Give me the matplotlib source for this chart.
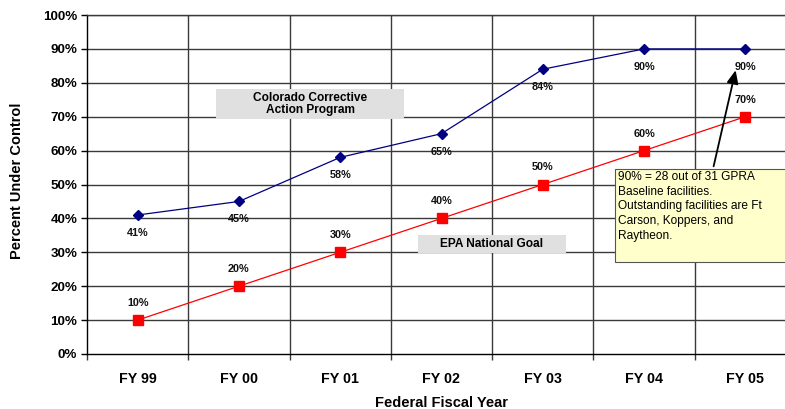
import matplotlib
matplotlib.use("Agg")
import matplotlib.pyplot as plt
from matplotlib.ticker import FixedLocator, NullFormatter

categories = ["FY 99", "FY 00", "FY 01", "FY 02", "FY 03", "FY 04", "FY 05"]
colorado = [41, 45, 58, 65, 84, 90, 90]
epa_goal = [10, 20, 30, 40, 50, 60, 70]
y_ticks = [0, 10, 20, 30, 40, 50, 60, 70, 80, 90, 100]

plt.rcParams['font.family'] = ['Liberation Sans', 'DejaVu Sans']

fig = plt.figure(figsize=(7.85, 4.09), dpi=100)
W, H = 785, 409
ax = fig.add_axes([87 / W, (H - 354) / H, (796 - 87) / W, (354 - 15) / H])

x = list(range(len(categories)))
ax.set_xlim(-0.5, len(categories) - 0.5)
ax.set_ylim(0, 100)

grid_c = "#3a3a3a"
for yv in y_ticks[1:]:
    ax.axhline(yv, color=grid_c, lw=1.0, zorder=1)
for b in range(1, len(categories)):
    ax.axvline(b - 0.5, color=grid_c, lw=1.0, zorder=1)

ax.plot(x, colorado, color="#000080", lw=0.9, marker="D", ms=5.5, mfc="#000080", mec="#000080", zorder=4)
ax.plot(x, epa_goal, color="#FF0000", lw=0.9, marker="s", ms=6.5, mfc="#FF0000", mec="#FF0000", zorder=4)

for xi, v in zip(x, colorado):
    ax.annotate(f"{v}%", (xi, v), xytext=(0, -18), textcoords="offset pixels",
                ha="center", va="center", fontsize=7.8, fontweight="bold", color="#111111", zorder=5)
for xi, v in zip(x, epa_goal):
    ax.annotate(f"{v}%", (xi, v), xytext=(0, 17), textcoords="offset pixels",
                ha="center", va="center", fontsize=7.8, fontweight="bold", color="#111111", zorder=5)

ax.set_yticks(y_ticks)
ax.set_yticklabels([f"{v}%" for v in y_ticks], fontsize=9.6, fontweight="bold")
ax.set_xticks(x)
ax.set_xticklabels(categories, fontsize=10.3, fontweight="bold")
ax.tick_params(axis="x", length=0, pad=13)
ax.xaxis.set_minor_locator(FixedLocator([b - 0.5 for b in range(len(categories) + 1)]))
ax.xaxis.set_minor_formatter(NullFormatter())
ax.tick_params(axis="x", which="minor", length=4, color=grid_c, width=1.0)
ax.tick_params(axis="y", length=4, width=1.0, color="black", pad=3)

for s in ["top", "right"]:
    ax.spines[s].set_color(grid_c)
    ax.spines[s].set_linewidth(1.0)
for s in ["left", "bottom"]:
    ax.spines[s].set_color("black")
    ax.spines[s].set_linewidth(1.0)

ax.set_ylabel("Percent Under Control", fontsize=10.5, fontweight="bold")
ax.yaxis.set_label_coords(-0.089, 0.51)
ax.set_xlabel("Federal Fiscal Year", fontsize=10.5, fontweight="bold", labelpad=7)

# labels boxes
fig.patches.append(plt.Rectangle((216 / W, (H - 119) / H), (404 - 216) / W, 30 / H,
                                 transform=fig.transFigure, facecolor="#E0E0E0", edgecolor="none", zorder=6))
fig.text(310 / W, (H - 104) / H, "Colorado Corrective\nAction Program", ha="center", va="center",
         fontsize=8.6, fontweight="bold", linespacing=1.0, zorder=7)
fig.patches.append(plt.Rectangle((418 / W, (H - 253) / H), (566 - 418) / W, 18 / H,
                                 transform=fig.transFigure, facecolor="#E0E0E0", edgecolor="none", zorder=6))
fig.text(492 / W, (H - 244) / H, "EPA National Goal", ha="center", va="center",
         fontsize=8.6, fontweight="bold", zorder=7)

# note box
fig.patches.append(plt.Rectangle((615 / W, (H - 262) / H), (790 - 615) / W, 93 / H,
                                 transform=fig.transFigure, facecolor="#FFFFCC", edgecolor="#555555",
                                 lw=0.8, zorder=6))
fig.text(618 / W, (H - 171) / H,
         "90% = 28 out of 31 GPRA\nBaseline facilities.\nOutstanding facilities are Ft\nCarson, Koppers, and\nRaytheon.",
         ha="left", va="top", fontsize=8.6, linespacing=1.3, zorder=7)
ax.annotate("", xy=(6 - 0.09, 84.5), xytext=(713 / W, (H - 169) / H), textcoords="figure fraction",
            arrowprops=dict(arrowstyle="-|>,head_length=0.8,head_width=0.35", color="black", lw=1.3),
            zorder=8, annotation_clip=False)

fig.savefig("out.png", dpi=100)
